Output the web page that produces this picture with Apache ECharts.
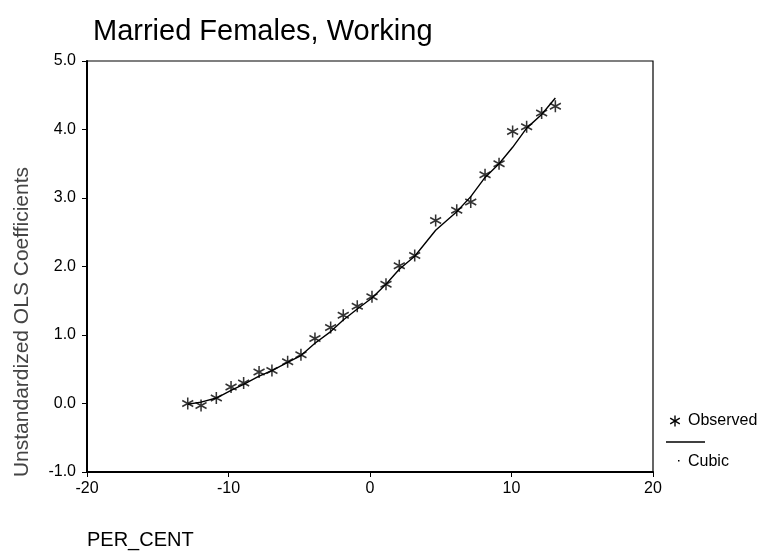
<!DOCTYPE html>
<html>
<head>
<meta charset="utf-8">
<script src="https://cdn.jsdelivr.net/npm/echarts@6/dist/echarts.min.js"></script>
<style>html,body{margin:0;padding:0;background:#fff;}#c{width:770px;height:552px;}</style>
</head>
<body>
<div id="c"></div>
<script>
const perCent = [-12.88,-11.94,-10.86,-9.82,-8.93,-7.84,-6.93,-5.82,-4.88,-3.89,-2.78,-1.89,-0.90,0.14,1.13,2.07,3.16,4.64,6.13,7.12,8.13,9.12,10.08,11.07,12.13,13.10];
const observed = [0.00,-0.03,0.08,0.24,0.30,0.46,0.48,0.61,0.71,0.95,1.11,1.29,1.42,1.56,1.74,2.01,2.16,2.67,2.82,2.94,3.34,3.50,3.97,4.04,4.24,4.34];
const cubic = [-0.01,0.02,0.08,0.19,0.28,0.40,0.48,0.60,0.70,0.88,1.05,1.22,1.38,1.54,1.74,1.96,2.15,2.53,2.80,3.02,3.30,3.50,3.74,4.02,4.22,4.46];
const xTicks = {min:-20, max:20, interval:10};
const yTicks = {min:-1, max:5, interval:1};

const star = 'path://M0,-6L0,6M-5.2,-3L5.2,3M-5.2,3L5.2,-3';
const FONT = '"Liberation Sans", Arial, sans-serif';
const chart = echarts.init(document.getElementById('c'));
const lg = (x1,y1,x2,y2,w)=>({type:'line', shape:{x1,y1,x2,y2}, style:{stroke:'#000', lineWidth:w||1.4}});
chart.setOption({
  animation:false,
  backgroundColor:'#fff',
  title:{text:'Married Females, Working', left:88, top:12,
    textStyle:{fontFamily:FONT, fontSize:29, fontWeight:'normal', color:'#000'}},
  grid:{left:87, right:117, top:61, bottom:80, show:true, borderColor:'#000', borderWidth:1.2},
  xAxis:{type:'value', min:xTicks.min, max:xTicks.max, interval:xTicks.interval,
    splitLine:{show:false},
    axisLine:{onZero:false, lineStyle:{color:'#000', width:2}},
    axisTick:{length:5, lineStyle:{color:'#000'}},
    axisLabel:{fontFamily:FONT, fontSize:16, color:'#000', margin:9}},
  yAxis:{type:'value', min:yTicks.min, max:yTicks.max, interval:yTicks.interval,
    splitLine:{show:false},
    axisLine:{onZero:false, lineStyle:{color:'#000', width:2}},
    axisTick:{length:5, lineStyle:{color:'#000'}},
    axisLabel:{fontFamily:FONT, fontSize:16, color:'#000', margin:11, formatter:v=>v.toFixed(1)}},
  series:[
    {name:'Cubic', type:'line', data:perCent.map((x,i)=>[x,cubic[i]]), showSymbol:false,
      lineStyle:{color:'#000', width:1.4}, z:2},
    {name:'Observed', type:'scatter', data:perCent.map((x,i)=>[x,observed[i]]),
      symbol:star, symbolSize:[11,12],
      itemStyle:{color:'transparent', borderColor:'#000', borderWidth:1.6}, z:3}
  ],
  graphic:[
    {type:'text', x:87, y:540, style:{text:'PER_CENT', font:'20px '+FONT, fill:'#000', textVerticalAlign:'middle'}},
    {type:'text', x:22, y:322, rotation:Math.PI/2, style:{text:'Unstandardized OLS Coefficients', font:'21px '+FONT, fill:'#444', textAlign:'center', textVerticalAlign:'middle'}},
    lg(675,415.5,675,426.5), lg(670.2,418.2,679.8,423.8), lg(670.2,423.8,679.8,418.2),
    {type:'text', x:688, y:421, style:{text:'Observed', font:'16px '+FONT, fill:'#000', textVerticalAlign:'middle'}},
    lg(666,442,705,442,1.3),
    {type:'rect', shape:{x:678, y:460, width:1.5, height:1.5}, style:{fill:'#000'}},
    {type:'text', x:688, y:462, style:{text:'Cubic', font:'16px '+FONT, fill:'#000', textVerticalAlign:'middle'}}
  ]
});
</script>
</body>
</html>
